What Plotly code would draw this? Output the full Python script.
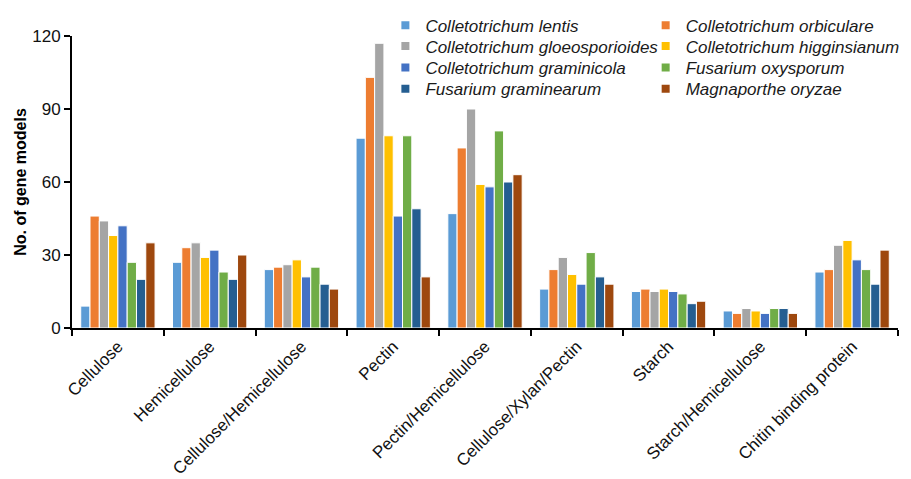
import plotly.graph_objects as go

categories = ["Cellulose", "Hemicellulose", "Cellulose/Hemicellulose", "Pectin",
              "Pectin/Hemicellulose", "Cellulose/Xylan/Pectin", "Starch",
              "Starch/Hemicellulose", "Chitin binding protein"]

species = ["Colletotrichum lentis", "Colletotrichum orbiculare",
           "Colletotrichum gloeosporioides", "Colletotrichum higginsianum",
           "Colletotrichum graminicola", "Fusarium oxysporum",
           "Fusarium graminearum", "Magnaporthe oryzae"]

c_lentis = [9, 27, 24, 78, 47, 16, 15, 7, 23]
c_orbiculare = [46, 33, 25, 103, 74, 24, 16, 6, 24]
c_gloeosporioides = [44, 35, 26, 117, 90, 29, 15, 8, 34]
c_higginsianum = [38, 29, 28, 79, 59, 22, 16, 7, 36]
c_graminicola = [42, 32, 21, 46, 58, 18, 15, 6, 28]
f_oxysporum = [27, 23, 25, 79, 81, 31, 14, 8, 24]
f_graminearum = [20, 20, 18, 49, 60, 21, 10, 8, 18]
m_oryzae = [35, 30, 16, 21, 63, 18, 11, 6, 32]

series = [c_lentis, c_orbiculare, c_gloeosporioides, c_higginsianum,
          c_graminicola, f_oxysporum, f_graminearum, m_oryzae]
colors = ["#5B9BD5", "#ED7D31", "#A5A5A5", "#FFC000",
          "#4472C4", "#70AD47", "#255E91", "#9E480E"]

fig = go.Figure()

# grouped bars, one trace per species
for name, vals, col in zip(species, series, colors):
    fig.add_trace(go.Bar(
        x=categories, y=vals, name=name, showlegend=False,
        marker=dict(color=col, line=dict(color="white", width=1)),
    ))

# legend keys: small squares laid out in a 2-column grid,
# each key in its own legend box so rows can be placed exactly
legend_ids = ["legend"] + [f"legend{k}" for k in range(2, 9)]
col_x = [0.3794, 0.6945]
row_y = [1.035, 0.964, 0.891, 0.818]
legend_font = dict(family="Liberation Sans, Arial, sans-serif", size=17,
                   color="#1a1a1a", style="italic")

for i, (name, col) in enumerate(zip(species, colors)):
    fig.add_trace(go.Scatter(
        x=[None], y=[None], name=name, mode="markers",
        marker=dict(symbol="square", size=8, color=col),
        legend=legend_ids[i], hoverinfo="skip",
    ))

fig.update_layout(
    width=911, height=479,
    margin=dict(l=72, r=6, t=36, b=151),
    plot_bgcolor="white", paper_bgcolor="white",
    barmode="group", bargap=0.19, bargroupgap=0,
    font=dict(family="Liberation Sans, Arial, sans-serif", color="black"),
    xaxis=dict(
        showline=True, linecolor="black", linewidth=2,
        ticks="outside", tickson="boundaries", ticklen=6, tickwidth=2,
        tickcolor="black", tickangle=-45,
        tickfont=dict(size=17, color="#111"),
        showgrid=False, automargin=False,
    ),
    yaxis=dict(
        range=[0, 120], tickvals=[0, 30, 60, 90, 120],
        showline=True, linecolor="black", linewidth=2,
        ticks="outside", ticklen=6, tickwidth=2, tickcolor="black",
        tickfont=dict(size=17, color="#111"),
        showgrid=False, zeroline=False, automargin=False,
        title=dict(text="<b>No. of gene models</b>", font=dict(size=16),
                   standoff=2),
    ),
)
for i, lid in enumerate(legend_ids):
    fig.update_layout({lid: dict(
        x=col_x[i % 2], y=row_y[i // 2], xanchor="left", yanchor="middle",
        font=legend_font, bgcolor="rgba(0,0,0,0)", itemwidth=30,
    )})

fig.write_html("out.html")
